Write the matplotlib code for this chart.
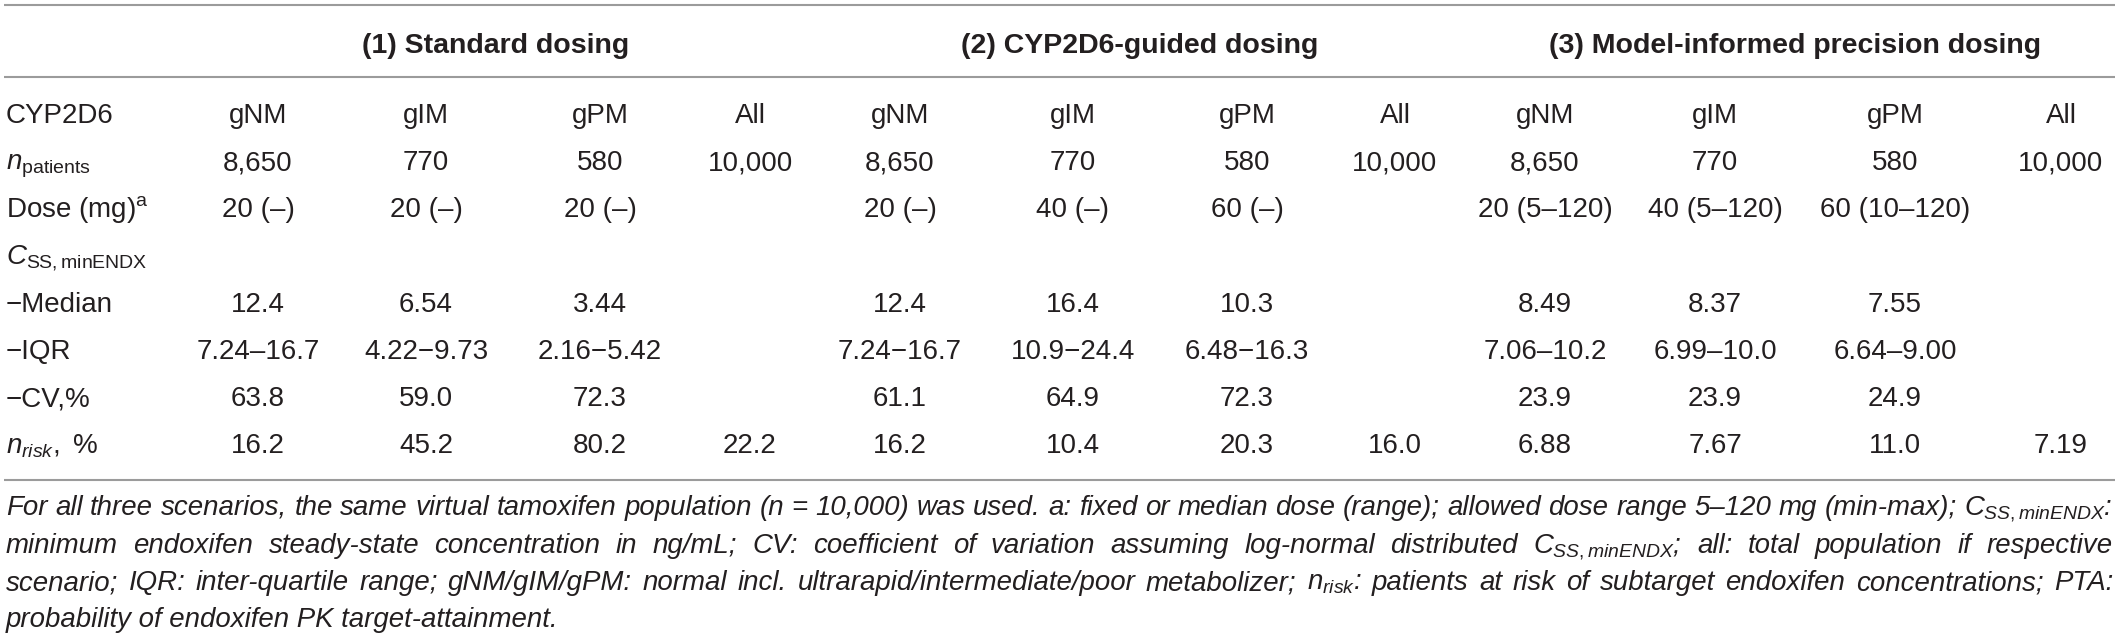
import numpy as np
import matplotlib
matplotlib.use('Agg')
import matplotlib.pyplot as plt

plt.rcParams['font.family'] = ['Liberation Sans', 'DejaVu Sans']
plt.rcParams['mathtext.fontset'] = 'custom'
plt.rcParams['mathtext.rm'] = 'Liberation Sans'
plt.rcParams['mathtext.it'] = 'Liberation Sans:italic'
plt.rcParams['mathtext.bf'] = 'Liberation Sans:bold'

# table content
groups = ['(1) Standard dosing', '(2) CYP2D6-guided dosing', '(3) Model-informed precision dosing']
phenotypes = ['gNM', 'gIM', 'gPM', 'All']
n_patients = ['8,650', '770', '580', '10,000']
dose = [['20 (–)', '20 (–)', '20 (–)', ''],
        ['20 (–)', '40 (–)', '60 (–)', ''],
        ['20 (5–120)', '40 (5–120)', '60 (10–120)', '']]
median = [['12.4', '6.54', '3.44', ''],
          ['12.4', '16.4', '10.3', ''],
          ['8.49', '8.37', '7.55', '']]
iqr = [['7.24–16.7', '4.22−9.73', '2.16−5.42', ''],
       ['7.24−16.7', '10.9−24.4', '6.48−16.3', ''],
       ['7.06–10.2', '6.99–10.0', '6.64–9.00', '']]
cv = [['63.8', '59.0', '72.3', ''],
      ['61.1', '64.9', '72.3', ''],
      ['23.9', '23.9', '24.9', '']]
nrisk = [['16.2', '45.2', '80.2', '22.2'],
         ['16.2', '10.4', '20.3', '16.0'],
         ['6.88', '7.67', '11.0', '7.19']]
row_labels = ['CYP2D6', r'$n_{\mathrm{patients}}$', r'Dose (mg)$^{\mathrm{a}}$',
              r'$C_{\mathrm{SS,minENDX}}$', '−Median', '−IQR', '−CV,%',
              r'$n_{risk},\ \mathrm{\%}$']
footnote = [
    'For all three scenarios, the same virtual tamoxifen population (n = 10,000) was used. '
    'a: fixed or median dose (range); allowed dose range 5–120 mg (min-max); $C_{SS,minENDX}$:',
    'minimum endoxifen steady-state concentration in ng/mL; CV: coefficient of variation '
    'assuming log-normal distributed $C_{SS,minENDX}$; all: total population if respective',
    'scenario; IQR: inter-quartile range; gNM/gIM/gPM: normal incl. ultrarapid/intermediate/poor '
    'metabolizer; $n_{risk}$: patients at risk of subtarget endoxifen concentrations; PTA:',
    'probability of endoxifen PK target-attainment.',
]

# layout (pixels)
W, H = 2119, 640
col_x = [258, 426, 600, 750, 900, 1073, 1247, 1395, 1545, 1715, 1895, 2061]
row_y = [123, 170, 217, 264, 312, 359, 406, 453]
left, right = 6, 2113
txt = '#231f20'
fs = 20

fig = plt.figure(figsize=(W / 100, H / 100), dpi=100)
ax = fig.add_axes([0, 0, 1, 1])
ax.set_xlim(0, W)
ax.set_ylim(H, 0)
ax.axis('off')

for y in [5, 77, 480]:
    ax.hlines(y, left - 2, right + 2, color='#9b9b9b', lw=1.5)

for g, name in enumerate(groups):
    cx = (col_x[4 * g] + col_x[4 * g + 3]) / 2 - 8
    ax.text(cx, 53, name, ha='center', va='baseline', fontsize=20.5,
            fontweight='bold', color=txt)

for r, lab in enumerate(row_labels):
    ax.text(left, row_y[r], lab, ha='left', va='baseline', fontsize=fs, color=txt)

for g in range(3):
    for k in range(4):
        x = col_x[4 * g + k]
        vals = [phenotypes[k], n_patients[k], dose[g][k], '',
                median[g][k], iqr[g][k], cv[g][k], nrisk[g][k]]
        for r, v in enumerate(vals):
            if v:
                ax.text(x, row_y[r], v, ha='center', va='baseline',
                        fontsize=fs, color=txt)

# footnote, justified to the table width
fig.canvas.draw()
rend = fig.canvas.get_renderer()
probe = ax.text(0, 0, footnote[0], fontsize=18, style='italic')
nat = probe.get_window_extent(rend).width
probe.remove()
ffs = 18 * (right - left) / nat

foot_y = [515, 553, 590, 627]
for i, line in enumerate(footnote):
    if i == len(footnote) - 1:
        ax.text(left, foot_y[i], line, ha='left', va='baseline', fontsize=ffs,
                style='italic', color=txt)
        continue
    words = line.split(' ')
    objs = [ax.text(0, foot_y[i], w, ha='left', va='baseline', fontsize=ffs,
                    style='italic', color=txt) for w in words]
    widths = [o.get_window_extent(rend).width for o in objs]
    gap = (right - left - sum(widths)) / (len(words) - 1)
    x = left
    for o, w in zip(objs, widths):
        o.set_x(x)
        x += w + gap

fig.savefig('out.png', dpi=100)
